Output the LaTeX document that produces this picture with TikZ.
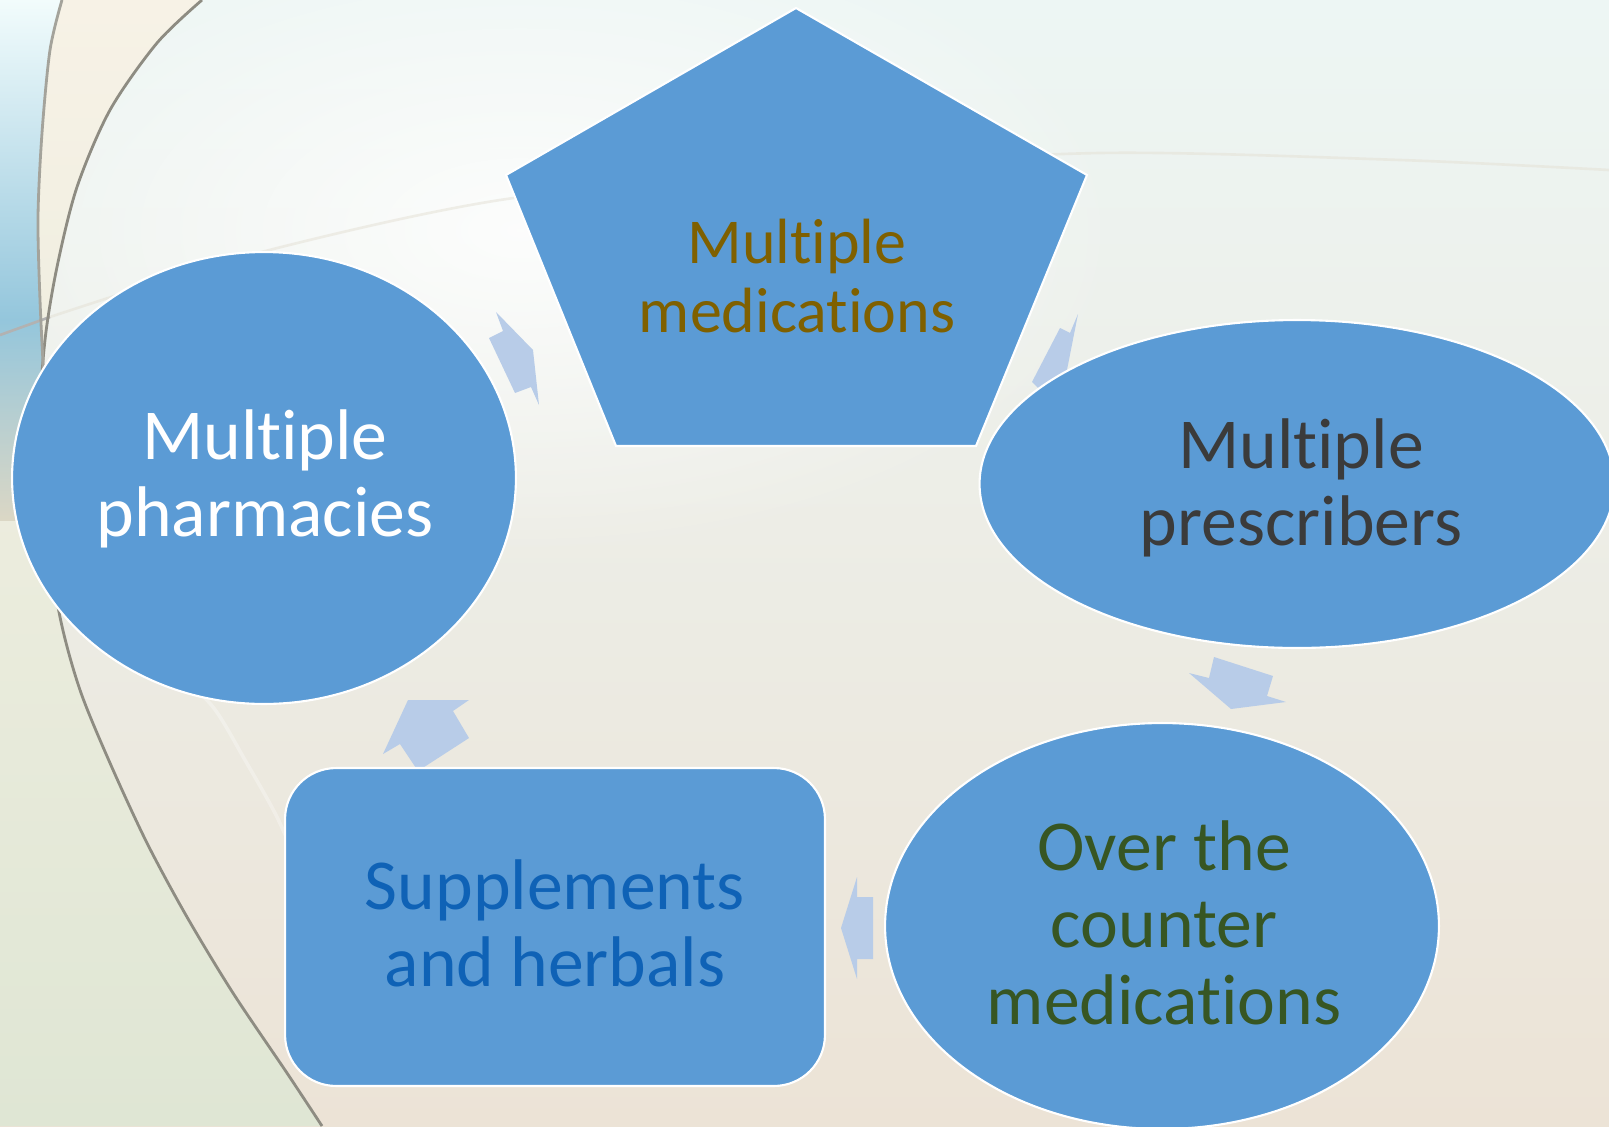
\documentclass[tikz,border=0pt]{standalone}
\usepackage{fontspec}
\setmainfont{Carlito}[Ligatures=NoCommon,RawFeature={-liga;-clig;-dlig}]
\usetikzlibrary{shapes.geometric,fadings}
\tikzfading[name=softglow, inner color=transparent!0, outer color=transparent!100]
\definecolor{shapefill}{HTML}{5B9BD5}
\definecolor{arrowfill}{HTML}{B8CCE8}
\definecolor{bgtop}{HTML}{EDF6F4}
\definecolor{bgmid}{HTML}{F8F6EF}
\definecolor{bgbot}{HTML}{ECE3D6}
\definecolor{leftmid}{HTML}{D9D5C2}
\definecolor{lefttop}{HTML}{F7F2E6}
\definecolor{leftbot}{HTML}{DFE6D4}
\definecolor{cyantop}{HTML}{F2FCFC}
\definecolor{cyanmid}{HTML}{B4E6F0}
\definecolor{cyanbot}{HTML}{94C6DC}
\definecolor{cyanfade}{HTML}{DBD7C5}
\definecolor{arcline}{HTML}{8E8C82}
\definecolor{faintline}{HTML}{E4E0D4}
\definecolor{txtbrown}{HTML}{7F6000}
\definecolor{txtgray}{HTML}{3B3B3B}
\definecolor{txtgreen}{HTML}{375623}
\definecolor{txtblue}{HTML}{0F62B6}
\begin{document}
\begin{tikzpicture}[x=0.02cm,y=-0.02cm,
  blockshape/.style={fill=shapefill,draw=white,line width=1.2pt,inner sep=0pt},
  blockarrow/.style={fill=arrowfill,draw=none},
  bigtext/.style={align=center,inner sep=0pt,font=\fontsize{40.8pt}{43.7pt}\selectfont},
  smalltext/.style={align=center,inner sep=0pt,font=\fontsize{36.4pt}{39.1pt}\selectfont}]
\useasboundingbox (0,0) rectangle (1609,1126);
\clip (0,0) rectangle (1609,1126);
% background
\shade[top color=bgtop, middle color=bgmid, bottom color=bgbot] (0,0) rectangle (1609,1126);
\fill[white,opacity=0.85,path fading=softglow] (520,230) ellipse [x radius=620, y radius=330];
\shade[top color=lefttop, middle color=leftmid, bottom color=leftbot]
  plot[smooth] coordinates {(202,0) (157,43) (110,110) (77,187) (57,267) (45,340) (40,420) (45,520) (60,617) (80,690) (110,763) (147,843) (187,917) (233,993) (287,1073) (322,1126)}
  -- (0,1126) -- (0,0) -- cycle;
\begin{scope}
  \clip plot[smooth] coordinates {(62,0) (50,50) (42,133) (38,217) (40,300) (44,380) (48,440) (52,540)} -- (0,540) -- (0,0) -- cycle;
  \shade[top color=cyantop, middle color=cyanmid, bottom color=cyanbot] (0,0) rectangle (70,320);
  \shade[top color=cyanbot, bottom color=cyanfade] (0,319) rectangle (70,520);
\end{scope}
\draw[faintline,opacity=0.5,line width=1.5pt] plot[smooth] coordinates {(50,317) (250,255) (500,200) (800,170) (1100,153) (1400,160) (1609,170)};
\draw[gray!60,line width=1.5pt] (0,335) -- (50,317);
\draw[white,opacity=0.3,line width=2pt] plot[smooth] coordinates {(170,665) (213,707) (245,760) (277,817) (300,870)};
\draw[arcline,line width=1.6pt] plot[smooth] coordinates {(202,0) (157,43) (110,110) (77,187) (57,267) (45,340) (40,420) (45,520) (60,617) (80,690) (110,763) (147,843) (187,917) (233,993) (287,1073) (322,1126)};
\draw[arcline!80,line width=1.6pt] plot[smooth] coordinates {(62,0) (50,50) (42,133) (38,217) (40,300) (44,380) (48,440)};
% block arrows
\fill[blockarrow] (533,350) -- (496,312) -- (503,331) -- (489,338) -- (515,393) -- (531,387) -- (539,405) -- cycle;
\fill[blockarrow] (1078,314) -- (1070,333) -- (1060,328) -- (1032,382) -- (1050,400) -- (1066,375) -- cycle;
\fill[blockarrow] (1231,709) -- (1189,673) -- (1209,678) -- (1214,657) -- (1273,676) -- (1267,696) -- (1286,702) -- cycle;
\fill[blockarrow] (841,928) -- (857,877) -- (857,897) -- (873,897) -- (873,959) -- (857,959) -- (857,979) -- cycle;
\fill[blockarrow] (408,700) -- (469,700) -- (453,711) -- (469,738) -- (418,771) -- (400,744) -- (383,754) -- cycle;
% shapes
\draw[blockshape] (796,8) -- (1087,175) -- (976,446) -- (616,446) -- (506,175) -- cycle;
\node[blockshape,ellipse,minimum width=10.08cm,minimum height=9.04cm] (pharm) at (264,478) {};
\node[blockshape,ellipse,minimum width=12.7cm,minimum height=6.56cm] (presc) at (1297,484) {};
\node[blockshape,ellipse,minimum width=11.08cm,minimum height=8.12cm] (otc) at (1162,926) {};
\node[blockshape,rectangle,rounded corners=1.02cm,minimum width=10.8cm,minimum height=6.36cm] (supp) at (555,927) {};
% texts
\node[smalltext,text=txtbrown] (medtext) at (797,276) {Multiple\\medications};
\node[bigtext,text=white] (pharmtext) at (265,478.5) {Multiple\\pharmacies};
\node[bigtext,text=txtgray] (presctext) at (1301,488) {Multiple\\prescribers};
\node[bigtext,text=txtgreen] (otctext) at (1164,923) {Over the\\counter\\medications};
\node[bigtext,text=txtblue] (supptext) at (555,923) {Supplements\\and herbals};
\end{tikzpicture}
\end{document}
